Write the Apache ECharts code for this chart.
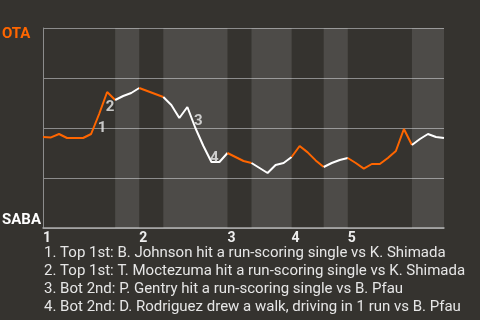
<!DOCTYPE html>
<html>
<head>
<meta charset="utf-8">
<script src="https://cdn.jsdelivr.net/npm/echarts@6/dist/echarts.min.js"></script>
<style>
html,body{margin:0;padding:0;background:#35332f;}
#c{width:480px;height:320px;}
</style>
</head>
<body>
<div id="c"></div>
<script>
// OTA win probability after each plate appearance (index 0 = game start)
const winProb = [0.455,0.453,0.47,0.45,0.45,0.45,0.47,0.57,0.68,0.64,0.66,0.675,0.70,0.685,0.67,0.655,0.615,0.55,0.605,0.50,0.41,0.33,0.33,0.375,0.355,0.335,0.325,0.30,0.275,0.315,0.325,0.355,0.41,0.378,0.338,0.305,0.325,0.34,0.35,0.325,0.297,0.32,0.32,0.35,0.385,0.495,0.415,0.445,0.47,0.455,0.45];
// plate-appearance index where each half inning ends
const halfBreaks = [0,9,12,15,23,26,31,35,38,46,50];
const inningStarts = [0,12,23,31,38];
const inningLabels = ['1','2','3','4','5'];
const eventIdx = [7,8,19,21];
const eventLabels = ['1','2','3','4'];
const eventTexts = [
  '1. Top 1st: B. Johnson hit a run-scoring single vs K. Shimada',
  '2. Top 1st: T. Moctezuma hit a run-scoring single vs K. Shimada',
  '3. Bot 2nd: P. Gentry hit a run-scoring single vs B. Pfau',
  '4. Bot 2nd: D. Rodriguez drew a walk, driving in 1 run vs B. Pfau'
];
const topTeam = 'OTA', bottomTeam = 'SABA';

const ORANGE = '#ff6600', WHITE = '#ffffff';
const series = [];
const bands = [];
for (let h = 0; h < halfBreaks.length - 1; h++) {
  const a = halfBreaks[h], b = halfBreaks[h+1];
  const data = [];
  for (let i = a; i <= b; i++) data.push([i, winProb[i]]);
  if (h % 2 === 1) bands.push([{xAxis: a}, {xAxis: b}]);
  series.push({
    type: 'line', data: data, symbol: 'none', z: 3,
    lineStyle: {color: h % 2 === 0 ? ORANGE : WHITE, width: 2},
    itemStyle: {color: h % 2 === 0 ? ORANGE : WHITE},
    animation: false
  });
}
series.push({
  type: 'line', data: [], z: 1, silent: true,
  markArea: {silent: true, itemStyle: {color: 'rgba(255,255,255,0.12)'}, data: bands}
});
series.push({
  type: 'scatter', symbolSize: 0, z: 5, animation: false,
  data: eventIdx.map((k, j) => ({value: [k - 0.5, (winProb[k-1] + winProb[k]) / 2], name: eventLabels[j]})),
  label: {show: true, position: 'inside', offset: [7, 4], formatter: p => p.name,
    color: '#eeeeee', fontWeight: 'bold', fontSize: 15, fontFamily: 'Roboto'}
});

const chart = echarts.init(document.getElementById('c'));
chart.setOption({
  backgroundColor: '#35332f',
  animation: false,
  grid: {left: 43, right: 36, top: 28, bottom: 92},
  xAxis: {
    type: 'value', min: 0, max: halfBreaks[halfBreaks.length-1],
    splitLine: {show: false},
    axisLine: {show: true, lineStyle: {color: '#aaaaaa', width: 1.5}},
    axisTick: {show: false},
    axisLabel: {
      customValues: inningStarts, align: 'left', margin: 3,
      formatter: v => inningLabels[inningStarts.indexOf(v)],
      color: '#eeeeee', fontWeight: 'bold', fontSize: 14, fontFamily: 'Roboto'
    }
  },
  yAxis: {
    type: 'value', min: 0, max: 1, interval: 0.25,
    axisLine: {show: true, lineStyle: {color: '#8c8c8c'}},
    axisTick: {show: false}, axisLabel: {show: false},
    splitLine: {show: true, lineStyle: {color: '#8c8c8c', width: 1}}
  },
  graphic: [
    {type: 'text', x: 2, y: 34, style: {text: topTeam, fill: ORANGE, font: 'bold 15px Roboto', verticalAlign: 'middle'}},
    {type: 'text', x: 2, y: 220, style: {text: bottomTeam, fill: '#ffffff', font: 'bold 15px Roboto', verticalAlign: 'middle'}},
    {type: 'text', x: 44, y: 244, style: {text: eventTexts.join('\n'), fill: '#e6e6e6', font: '15px Roboto', lineHeight: 18, verticalAlign: 'top'}}
  ],
  series: series
});
</script>
</body>
</html>
